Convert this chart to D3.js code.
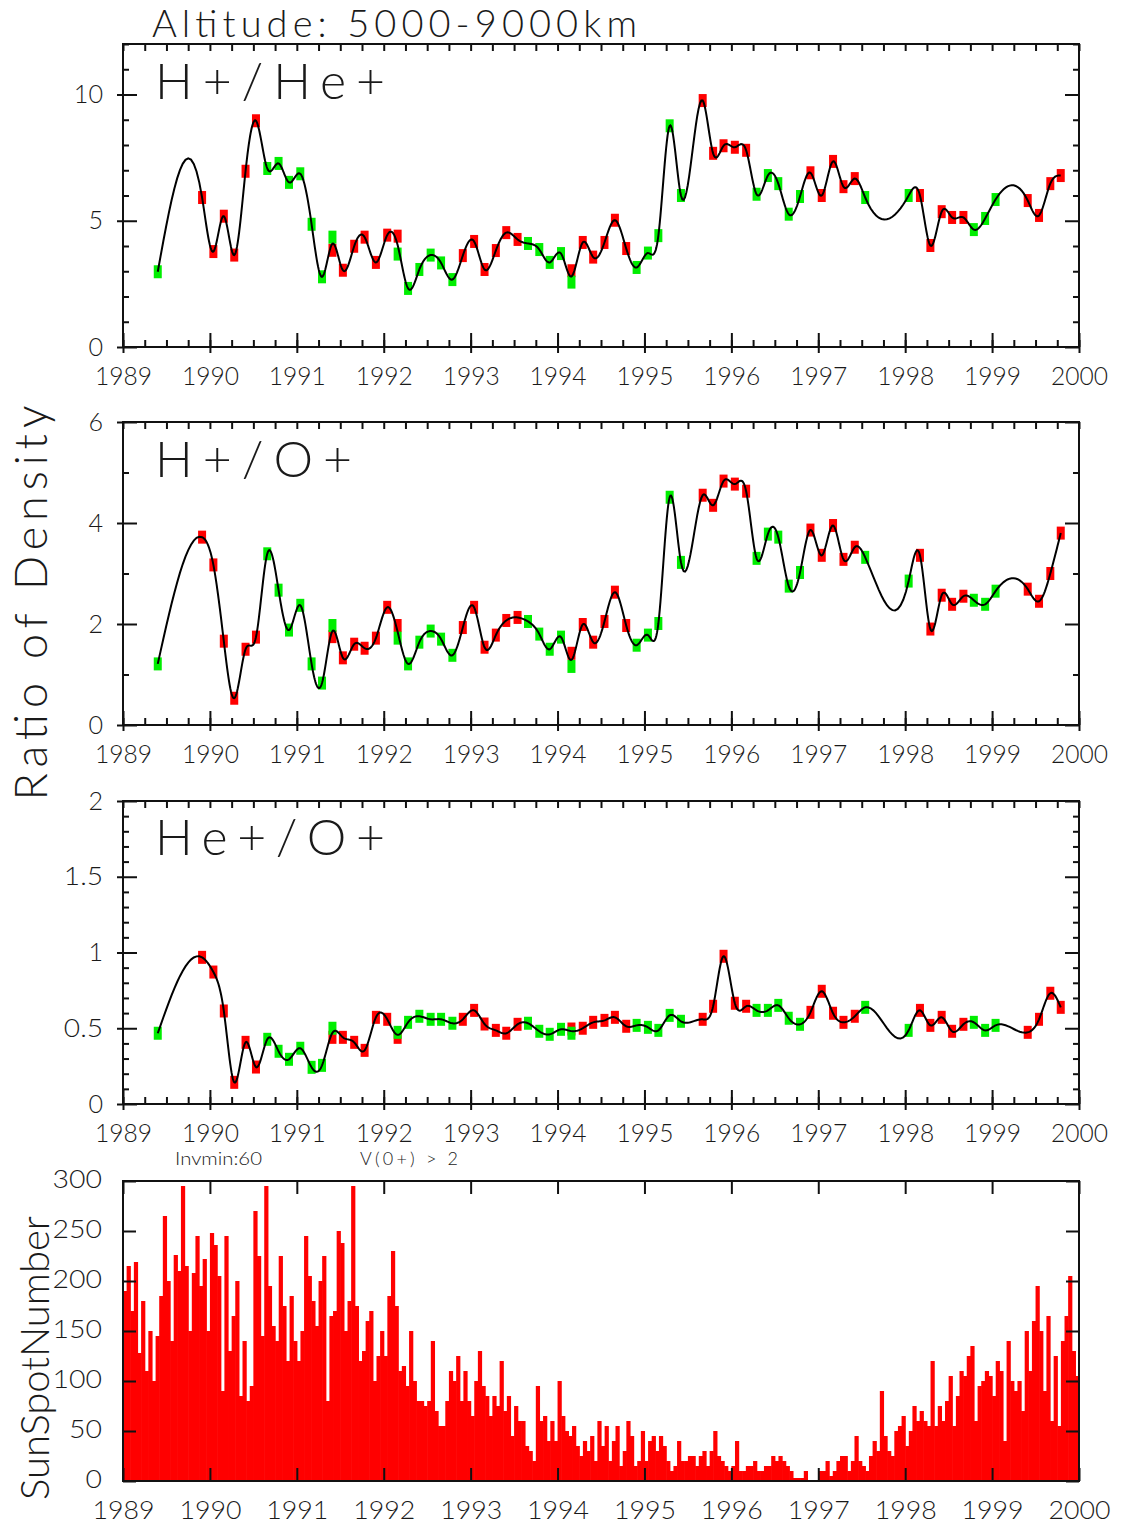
<!DOCTYPE html>
<html>
<head>
<meta charset="utf-8">
<script src="https://cdn.jsdelivr.net/npm/d3@7"></script>
<style>
  body { margin: 0; background: #fff; }
  svg text { font-family: Lato, "DejaVu Sans", sans-serif; font-weight: 300; fill: #1a1a1a; }
</style>
</head>
<body>
<div id="chart"></div>
<script>
const _ = null;

// sample dates (decimal years), shared by the three ratio panels
const dates = [1989.40, 1989.91, 1990.04, 1990.16, 1990.28, 1990.41, 1990.53, 1990.66, 1990.79, 1990.91,
  1991.04, 1991.17, 1991.29, 1991.41, 1991.53, 1991.66, 1991.78, 1991.91, 1992.04, 1992.16,
  1992.28, 1992.41, 1992.54, 1992.66, 1992.79, 1992.91, 1993.04, 1993.16, 1993.29, 1993.41,
  1993.54, 1993.66, 1993.79, 1993.91, 1994.04, 1994.16, 1994.29, 1994.41, 1994.54, 1994.66,
  1994.79, 1994.91, 1995.04, 1995.16, 1995.29, 1995.42, 1995.67, 1995.79, 1995.91, 1996.04,
  1996.17, 1996.29, 1996.42, 1996.54, 1996.66, 1996.79, 1996.91, 1997.04, 1997.17, 1997.29,
  1997.42, 1997.54, 1998.04, 1998.17, 1998.29, 1998.42, 1998.54, 1998.67, 1998.79, 1998.92,
  1999.04, 1999.41, 1999.54, 1999.67, 1999.79];

// H+/He+
const hHeRed = [_, 5.92, 3.78, 5.18, 3.64, 6.96, 8.96, _, _, _,
  _, _, _, 3.83, 3.04, 3.99, 4.35, 3.35, 4.43, 4.39,
  _, _, _, _, _, 3.62, 4.18, 3.07, 3.82, 4.53,
  4.26, _, _, _, _, 3.02, 4.14, 3.56, 4.14, 5.02,
  3.90, _, _, _, _, _, 9.76, 7.67, 7.97, 7.91,
  7.79, _, _, _, _, _, 6.90, 6.00, 7.35, 6.35,
  6.67, _, _, 6.00, 4.02, 5.36, 5.13, 5.13, _, _,
  _, 5.80, 5.21, 6.47, 6.79];
const hHeGreen = [2.98, _, _, _, _, _, _, 7.07, 7.27, 6.52,
  6.86, 4.86, 2.78, 4.35, _, _, _, _, _, 3.68,
  2.32, 3.07, 3.64, 3.33, 2.67, _, _, _, _, _,
  _, 4.10, 3.86, 3.35, 3.70, 2.57, _, _, _, _,
  _, 3.15, 3.72, 4.41, 8.76, 6.00, _, _, _, _,
  _, 6.05, 6.79, 6.47, 5.26, 5.96, _, _, _, _,
  _, 5.92, 6.00, _, _, _, _, _, 4.65, 5.09,
  5.84, _, _, _, _];

// H+/O+
const hORed = [_, 3.72, 3.17, 1.66, 0.53, 1.50, 1.74, _, _, _,
  _, _, _, 1.75, 1.33, 1.60, 1.52, 1.72, 2.33, 1.97,
  _, _, _, _, _, 1.93, 2.33, 1.54, 1.78, 2.07,
  2.13, _, _, _, _, 1.42, 1.99, 1.64, 2.05, 2.63,
  1.97, _, _, _, _, _, 4.55, 4.35, 4.83, 4.77,
  4.63, _, _, _, _, _, 3.86, 3.36, 3.95, 3.28,
  3.52, _, _, 3.36, 1.90, 2.57, 2.39, 2.55, _, _,
  _, 2.69, 2.45, 3.00, 3.80];
const hOGreen = [1.21, _, _, _, _, _, _, 3.39, 2.67, 1.88,
  2.37, 1.21, 0.83, 1.97, _, _, _, _, _, 1.72,
  1.21, 1.64, 1.86, 1.70, 1.38, _, _, _, _, _,
  _, 2.05, 1.80, 1.50, 1.74, 1.16, _, _, _, _,
  _, 1.58, 1.78, 2.01, 4.51, 3.22, _, _, _, _,
  _, 3.30, 3.78, 3.72, 2.75, 3.02, _, _, _, _,
  _, 3.32, 2.85, _, _, _, _, _, 2.47, 2.39,
  2.65, _, _, _, _];

// He+/O+
const heORed = [_, 0.968, 0.871, 0.614, 0.143, 0.407, 0.244, _, _, _,
  _, _, _, 0.440, 0.440, 0.407, 0.354, 0.572, 0.559, 0.440,
  _, _, _, _, _, 0.559, 0.618, 0.528, 0.486, 0.467,
  0.526, _, _, _, _, 0.495, 0.500, 0.539, 0.552, 0.572,
  0.513, _, _, _, _, _, 0.559, 0.645, 0.975, 0.665,
  0.645, _, _, _, _, _, 0.605, 0.744, 0.599, 0.539,
  0.579, _, _, 0.618, 0.519, 0.572, 0.480, 0.526, _, _,
  _, 0.473, 0.559, 0.731, 0.638];
const heOGreen = [0.467, _, _, _, _, _, _, 0.427, 0.348, 0.295,
  0.368, 0.242, 0.255, 0.500, _, _, _, _, _, 0.473,
  0.539, 0.579, 0.559, 0.559, 0.533, _, _, _, _, _,
  _, 0.533, 0.480, 0.460, 0.493, 0.467, _, _, _, _,
  _, 0.519, 0.506, 0.486, 0.585, 0.546, _, _, _, _,
  _, 0.618, 0.618, 0.651, 0.566, 0.526, _, _, _, _,
  _, 0.638, 0.486, _, _, _, _, _, 0.539, 0.486,
  0.519, _, _, _, _];

// sunspot number, half-month steps from 1989.0 (one row per year)
const sunspot = [
  190, 215, 170, 219, 128, 180, 110, 150, 100, 145, 185, 265, 200, 140, 226, 210, 295, 215, 150, 208, 245, 195, 222, 150,
  248, 236, 205, 90, 245, 130, 165, 200, 85, 140, 80, 95, 270, 225, 145, 295, 195, 155, 140, 225, 175, 120, 185, 140,
  120, 150, 245, 205, 180, 155, 200, 225, 80, 165, 170, 250, 238, 150, 180, 295, 175, 120, 130, 160, 170, 100, 125, 150,
  125, 185, 230, 175, 110, 115, 95, 150, 100, 80, 80, 75, 80, 140, 70, 55, 55, 80, 110, 100, 125, 80, 110, 80,
  65, 100, 130, 95, 85, 65, 85, 75, 120, 70, 85, 45, 75, 60, 60, 35, 30, 20, 95, 60, 65, 40, 60, 40,
  100, 65, 50, 45, 55, 35, 25, 40, 30, 45, 20, 60, 35, 55, 20, 40, 55, 15, 30, 60, 45, 15, 20, 50,
  20, 40, 45, 30, 45, 35, 20, 10, 15, 40, 20, 20, 25, 25, 15, 25, 30, 15, 30, 50, 25, 20, 15, 10,
  15, 40, 10, 10, 15, 15, 20, 10, 10, 15, 15, 25, 20, 25, 20, 15, 10, 3, 3, 3, 10, 0, 0, 0,
  10, 10, 20, 5, 10, 20, 25, 25, 10, 20, 45, 20, 15, 10, 25, 40, 30, 90, 45, 30, 25, 50, 55, 65,
  35, 50, 75, 60, 70, 60, 55, 120, 55, 75, 60, 80, 105, 55, 85, 110, 105, 125, 135, 60, 95, 100, 110, 105,
  85, 120, 110, 40, 140, 100, 90, 100, 70, 150, 110, 160, 195, 150, 90, 165, 60, 125, 55, 140, 165, 205, 130, 105
];

const yearTicks = d3.range(1989, 2001);
const quarterTicks = d3.range(1989, 2000.001, 0.25);

const WIDTH = 1125, HEIGHT = 1524;
const LEFT = 123, RIGHT = 1079;

const panels = [
  { name: "H+/He+", top: 44, bottom: 347, max: 12, major: [0, 5, 10], step: 1, red: hHeRed, green: hHeGreen, nameY: 99 },
  { name: "H+/O+", top: 422, bottom: 725, max: 6, major: [0, 2, 4, 6], step: 1, red: hORed, green: hOGreen, nameY: 477 },
  { name: "He+/O+", top: 801, bottom: 1104, max: 2, major: [0, 0.5, 1, 1.5, 2], step: 0.1, red: heORed, green: heOGreen, nameY: 855 }
];

const svg = d3.select("#chart").append("svg").attr("width", WIDTH).attr("height", HEIGHT);
const x = d3.scaleLinear().domain([1989, 2000]).range([LEFT, RIGHT]);

const cleanAxis = (g) => {
  g.attr("font-family", null).attr("font-size", null);
  g.select(".domain").remove();
  g.selectAll("line").attr("stroke", "#111").attr("stroke-width", 2);
};

// natural cubic spline y(x) through the points
const naturalSpline = (xs, ys) => {
  const n = xs.length;
  const h = [], al = [], l = [1], mu = [0], z = [0], b = [], c = new Array(n).fill(0), d = [];
  for (let i = 0; i < n - 1; i++) h[i] = xs[i + 1] - xs[i];
  for (let i = 1; i < n - 1; i++) {
    al[i] = (3 / h[i]) * (ys[i + 1] - ys[i]) - (3 / h[i - 1]) * (ys[i] - ys[i - 1]);
    l[i] = 2 * (xs[i + 1] - xs[i - 1]) - h[i - 1] * mu[i - 1];
    mu[i] = h[i] / l[i];
    z[i] = (al[i] - h[i - 1] * z[i - 1]) / l[i];
  }
  for (let j = n - 2; j >= 0; j--) {
    c[j] = z[j] - mu[j] * c[j + 1];
    b[j] = (ys[j + 1] - ys[j]) / h[j] - (h[j] * (c[j + 1] + 2 * c[j])) / 3;
    d[j] = (c[j + 1] - c[j]) / (3 * h[j]);
  }
  const pts = [];
  for (let j = 0; j < n - 1; j++) {
    for (let s = 0; s < 16; s++) {
      const dx = (h[j] * s) / 16;
      pts.push([xs[j] + dx, ys[j] + b[j] * dx + c[j] * dx * dx + d[j] * dx * dx * dx]);
    }
  }
  pts.push([xs[n - 1], ys[n - 1]]);
  return pts;
};

svg.append("text")
  .attr("x", 152).attr("y", 37)
  .attr("font-size", 38)
  .attr("textLength", 485).attr("lengthAdjust", "spacing")
  .text("Altitude: 5000-9000km");

panels.forEach((p) => {
  const y = d3.scaleLinear().domain([0, p.max]).range([p.bottom, p.top]);
  const g = svg.append("g");
  const minor = d3.range(0, p.max + p.step / 2, p.step).filter((v) => !p.major.some((m) => Math.abs(m - v) < 1e-6));

  // bottom axis: labels + outward, inward major, inward minor
  g.append("g").attr("transform", `translate(0,${p.bottom})`)
    .call(d3.axisBottom(x).tickValues(yearTicks).tickSize(6).tickPadding(14).tickFormat(d3.format("d")))
    .call(cleanAxis)
    .selectAll("text").attr("font-size", 25)
    .attr("textLength", 57).attr("lengthAdjust", "spacingAndGlyphs");
  g.append("g").attr("transform", `translate(0,${p.bottom})`)
    .call(d3.axisBottom(x).tickValues(yearTicks).tickSize(-14).tickFormat(""))
    .call(cleanAxis);
  g.append("g").attr("transform", `translate(0,${p.bottom})`)
    .call(d3.axisBottom(x).tickValues(quarterTicks).tickSize(-7).tickFormat(""))
    .call(cleanAxis);
  g.append("g").attr("transform", `translate(0,${p.top})`)
    .call(d3.axisTop(x).tickValues(quarterTicks).tickSize(-7).tickFormat(""))
    .call(cleanAxis);

  // left axis
  g.append("g").attr("transform", `translate(${LEFT},0)`)
    .call(d3.axisLeft(y).tickValues(p.major).tickSize(6).tickPadding(14).tickFormat((v) => String(v)))
    .call(cleanAxis)
    .selectAll("text").attr("font-size", 25)
    .attr("textLength", (v) => String(v).replace(".", "").length * 14.6 + (String(v).includes(".") ? 10 : 0))
    .attr("lengthAdjust", "spacingAndGlyphs");
  g.append("g").attr("transform", `translate(${LEFT},0)`)
    .call(d3.axisLeft(y).tickValues(p.major).tickSize(-14).tickFormat(""))
    .call(cleanAxis);
  g.append("g").attr("transform", `translate(${LEFT},0)`)
    .call(d3.axisLeft(y).tickValues(minor).tickSize(-6).tickFormat(""))
    .call(cleanAxis);
  // right axis
  g.append("g").attr("transform", `translate(${RIGHT},0)`)
    .call(d3.axisRight(y).tickValues(p.major).tickSize(-14).tickFormat(""))
    .call(cleanAxis);
  g.append("g").attr("transform", `translate(${RIGHT},0)`)
    .call(d3.axisRight(y).tickValues(minor).tickSize(-6).tickFormat(""))
    .call(cleanAxis);

  g.append("rect")
    .attr("x", LEFT).attr("y", p.top)
    .attr("width", RIGHT - LEFT).attr("height", p.bottom - p.top)
    .attr("fill", "none").attr("stroke", "#111").attr("stroke-width", 2);

  g.append("text")
    .attr("x", 155).attr("y", p.nameY)
    .attr("font-size", 50)
    .attr("textLength", p.name.length === 6 ? 230 : 197).attr("lengthAdjust", "spacing")
    .text(p.name);

  const redPts = dates.map((t, i) => [t, p.red[i]]).filter((d) => d[1] !== null);
  const greenPts = dates.map((t, i) => [t, p.green[i]]).filter((d) => d[1] !== null);

  g.selectAll(".red").data(redPts).enter().append("rect")
    .attr("x", (d) => x(d[0]) - 4).attr("y", (d) => y(d[1]) - 6.5)
    .attr("width", 8).attr("height", 13)
    .attr("fill", "#ff0000");
  g.selectAll(".green").data(greenPts).enter().append("rect")
    .attr("x", (d) => x(d[0]) - 4).attr("y", (d) => y(d[1]) - 6.5)
    .attr("width", 8).attr("height", 13)
    .attr("fill", "#00ee00");

  // smooth curve through the mean value at each date
  const means = dates.map((t, i) => {
    const vals = [p.red[i], p.green[i]].filter((v) => v !== null);
    return d3.mean(vals);
  });
  const curve = naturalSpline(dates, means);
  g.append("path")
    .datum(curve)
    .attr("fill", "none").attr("stroke", "#000").attr("stroke-width", 2)
    .attr("d", d3.line().x((d) => x(d[0])).y((d) => y(d[1])));
});

svg.append("text")
  .attr("transform", "translate(47,603) rotate(-90)")
  .attr("text-anchor", "middle")
  .attr("font-size", 45)
  .attr("textLength", 395).attr("lengthAdjust", "spacing")
  .text("Ratio of Density");

// sunspot panel
const SS_TOP = 1181, SS_BOTTOM = 1481;
const ys = d3.scaleLinear().domain([0, 300]).range([SS_BOTTOM, SS_TOP]);
const ss = svg.append("g");
const step = 1 / 24;

ss.selectAll("rect.bar").data(sunspot).enter().append("rect")
  .attr("class", "bar")
  .attr("x", (d, i) => x(1989 + i * step))
  .attr("y", (d) => ys(d))
  .attr("width", x(1989 + step) - x(1989) + 0.6)
  .attr("height", (d) => SS_BOTTOM - ys(d))
  .attr("fill", "#ff0000");

ss.append("g").attr("transform", `translate(0,${SS_BOTTOM})`)
  .call(d3.axisBottom(x).tickValues(yearTicks).tickSize(-13).tickPadding(16).tickFormat(d3.format("d")))
  .call(cleanAxis)
  .selectAll("text").attr("font-size", 26).attr("dy", "0.71em").attr("y", 20)
  .attr("textLength", 62).attr("lengthAdjust", "spacingAndGlyphs");
ss.append("g").attr("transform", `translate(0,${SS_TOP})`)
  .call(d3.axisTop(x).tickValues(yearTicks).tickSize(-13).tickFormat(""))
  .call(cleanAxis);
ss.append("g").attr("transform", `translate(${LEFT},0)`)
  .call(d3.axisLeft(ys).tickValues(d3.range(0, 301, 50)).tickSize(-13).tickPadding(21))
  .call(cleanAxis)
  .selectAll("text").attr("font-size", 26).attr("x", -21).attr("dy", "0.26em")
  .attr("textLength", (v) => String(v).length * 16.5).attr("lengthAdjust", "spacingAndGlyphs");
ss.append("g").attr("transform", `translate(${RIGHT},0)`)
  .call(d3.axisRight(ys).tickValues(d3.range(0, 301, 50)).tickSize(-13).tickFormat(""))
  .call(cleanAxis);
ss.append("rect")
  .attr("x", LEFT).attr("y", SS_TOP)
  .attr("width", RIGHT - LEFT).attr("height", SS_BOTTOM - SS_TOP)
  .attr("fill", "none").attr("stroke", "#111").attr("stroke-width", 2);

svg.append("text")
  .attr("transform", "translate(49,1358) rotate(-90)")
  .attr("text-anchor", "middle")
  .attr("font-size", 40)
  .attr("textLength", 284).attr("lengthAdjust", "spacingAndGlyphs")
  .text("SunSpotNumber");

svg.append("text").attr("x", 175).attr("y", 1165).attr("font-size", 18).attr("font-weight", 400)
  .attr("textLength", 87).attr("lengthAdjust", "spacingAndGlyphs").text("Invmin:60");
svg.append("text").attr("x", 360).attr("y", 1165).attr("font-size", 18).attr("font-weight", 400)
  .attr("textLength", 98).attr("lengthAdjust", "spacing").text("V(0+)  >  2");
</script>
</body>
</html>
